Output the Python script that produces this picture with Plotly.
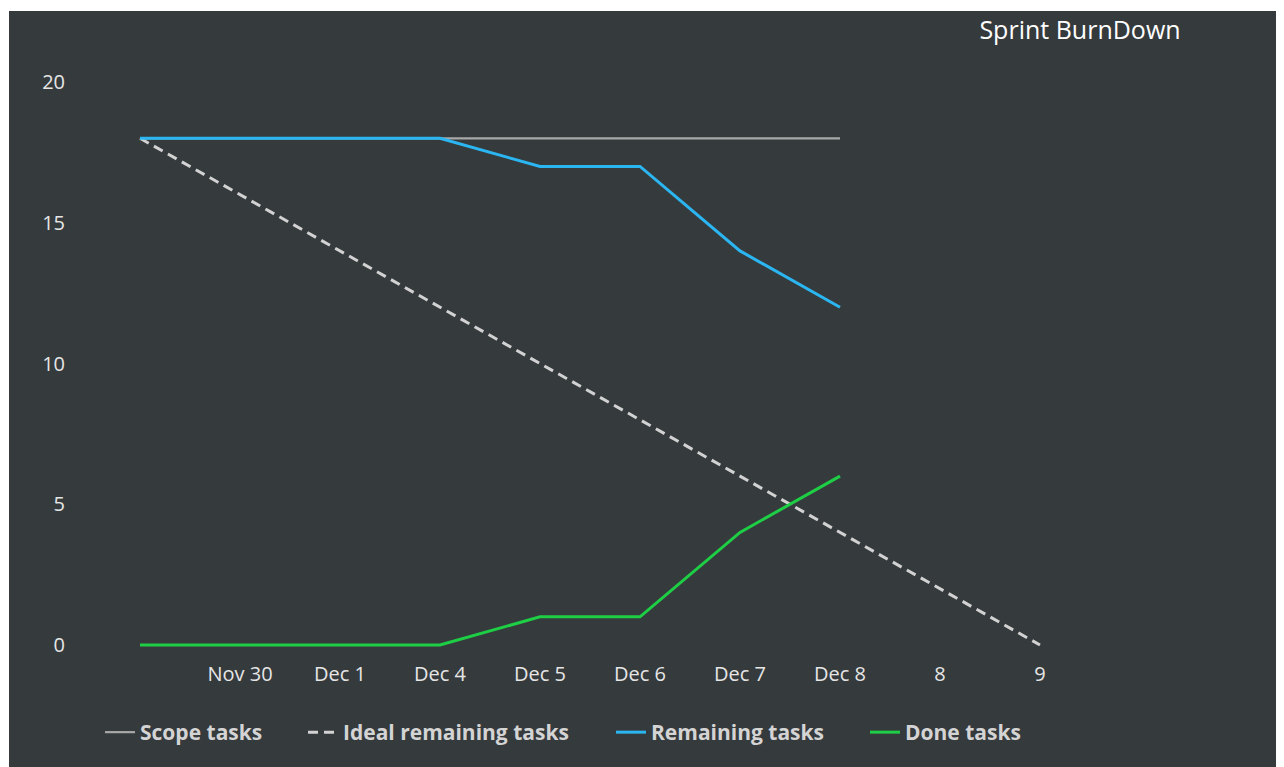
import plotly.graph_objects as go

categories = ["", "Nov 30", "Dec 1", "Dec 4", "Dec 5", "Dec 6", "Dec 7", "Dec 8", "8", "9"]
scope_tasks = [18, 18, 18, 18, 18, 18, 18, 18]
ideal_remaining = [18, 16, 14, 12, 10, 8, 6, 4, 2, 0]
remaining_tasks = [18, 18, 18, 18, 17, 17, 14, 12]
done_tasks = [0, 0, 0, 0, 1, 1, 4, 6]
y_ticks = [0, 5, 10, 15, 20]

W, H = 1276, 759
ML, MR, MT, MB = 58, 184, 50, 107
BG = "#353a3d"

idx = list(range(len(categories)))

fig = go.Figure()
fig.add_trace(go.Scatter(x=idx[:len(scope_tasks)], y=scope_tasks, mode="lines",
                         name="Scope tasks", legend="legend",
                         line=dict(color="#a8a8a8", width=2.2)))
fig.add_trace(go.Scatter(x=idx[:len(ideal_remaining)], y=ideal_remaining, mode="lines",
                         name="Ideal remaining tasks", legend="legend2",
                         line=dict(color="#d2d2d2", width=3, dash="10px,6px")))
fig.add_trace(go.Scatter(x=idx[:len(remaining_tasks)], y=remaining_tasks, mode="lines",
                         name="Remaining tasks", legend="legend3",
                         line=dict(color="#2bb6f2", width=3)))
fig.add_trace(go.Scatter(x=idx[:len(done_tasks)], y=done_tasks, mode="lines",
                         name="Done tasks", legend="legend4",
                         line=dict(color="#1ecf45", width=3)))

pw = W - ML - MR
ph = H - MT - MB
px_per_x = 100
px_per_y = 28.15
x0_px = 132   # figure pixel of first category
y0_px = 637   # figure pixel of value 0

legend_font = dict(size=21, color="#d4d4d4", family="Open Sans", weight="bold")
text_starts = [134, 337, 645, 899]   # figure pixels where legend texts begin


def legend_at(xtext):
    return dict(orientation="h", xref="container", yref="container",
                x=(xtext - 42) / W, xanchor="left",
                y=1 - 704 / H, yanchor="top",
                font=legend_font, bgcolor="rgba(0,0,0,0)", borderwidth=0)


def px_to_paper_x(p):
    return (p - ML) / pw


def px_to_paper_y(p):
    return (H - MB - p) / ph


# thin white frame strips matching the screenshot edges
frames = [
    (px_to_paper_x(-5), px_to_paper_x(W + 5), px_to_paper_y(3), px_to_paper_y(-5)),   # top
    (px_to_paper_x(-5), px_to_paper_x(1), px_to_paper_y(H + 5), px_to_paper_y(-5)),   # left
    (px_to_paper_x(W - 2), px_to_paper_x(W + 5), px_to_paper_y(H + 5), px_to_paper_y(-5)),  # right
]
for x0, x1, y0, y1 in frames:
    fig.add_shape(type="rect", xref="paper", yref="paper", x0=x0, x1=x1, y0=y0, y1=y1,
                  fillcolor="white", line=dict(width=0), layer="above")

fig.update_layout(
    width=W, height=H,
    margin=dict(l=ML, r=MR, t=MT, b=MB),
    paper_bgcolor=BG, plot_bgcolor=BG,
    font=dict(family="Open Sans", color="#e6e6e6", size=20),
    title=dict(text="Sprint BurnDown", x=1072 / W, xanchor="center", xref="container",
               y=1 - 22 / H, yanchor="middle", yref="container",
               font=dict(size=25, color="#ffffff", family="Open Sans")),
    showlegend=True,
    legend=legend_at(text_starts[0]),
    legend2=legend_at(text_starts[1]),
    legend3=legend_at(text_starts[2]),
    legend4=legend_at(text_starts[3]),
    xaxis=dict(range=[-(x0_px - ML) / px_per_x, (ML + pw - x0_px) / px_per_x],
               tickvals=idx, ticktext=categories, automargin=False,
               showgrid=False, zeroline=False, showline=False, ticks="",
               tickfont=dict(size=20, color="#e6e6e6")),
    yaxis=dict(range=[-((H - MB) - y0_px) / px_per_y, (y0_px - MT) / px_per_y],
               tickvals=y_ticks, automargin=False,
               showgrid=False, zeroline=False, showline=False, ticks="",
               tickfont=dict(size=20, color="#e6e6e6")),
)

fig.write_html("out.html")
